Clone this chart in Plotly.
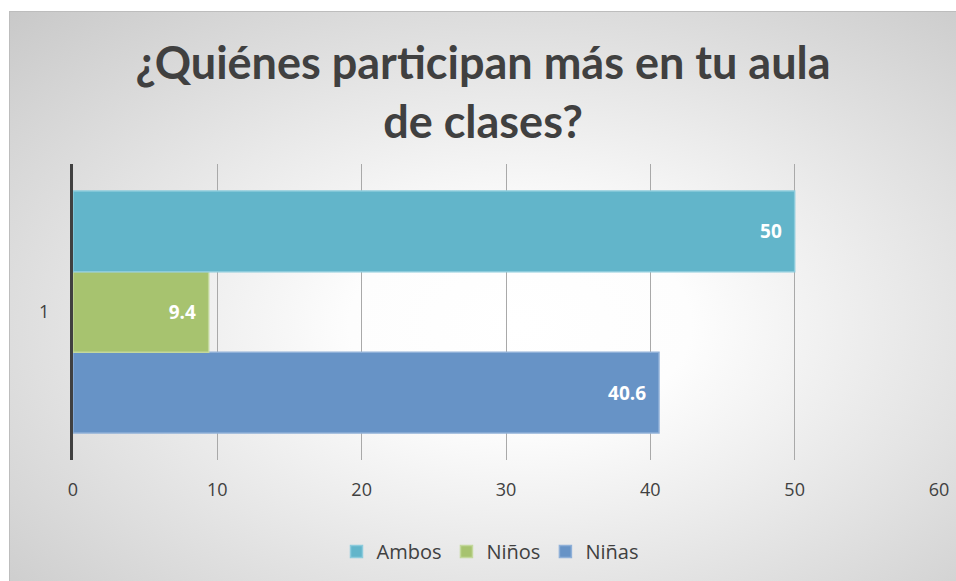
import base64
import plotly.graph_objects as go

# Data
categories = ["1"]
series_names = ["Niñas", "Niños", "Ambos"]
series_values = [[40.6], [9.4], [50]]
series_colors = ["#6793c6", "#a7c36f", "#62b5ca"]
series_lines = ["#8fb0d8", "#c3d89c", "#8ccbdc"]
x_ticks = [0, 10, 20, 30, 40, 50, 60]

W, H = 956, 581
L, R, T, B = 73, 17, 164, 121
pw, ph = W - L - R, H - T - B

# radial gradient background (chart area)
bx0, by0 = 9, 11
bw, bh = W - bx0, H - by0
svg = f'''<svg xmlns="http://www.w3.org/2000/svg" width="{bw}" height="{bh}" viewBox="0 0 {bw} {bh}" preserveAspectRatio="none">
<defs><radialGradient id="g" cx="0.54" cy="0.55" r="0.82" gradientUnits="objectBoundingBox">
<stop offset="0" stop-color="#ffffff"/><stop offset="0.22" stop-color="#fdfdfd"/>
<stop offset="1" stop-color="#c4c4c4"/></radialGradient></defs>
<rect x="0" y="0" width="{bw}" height="{bh}" fill="url(#g)"/>
<line x1="0" y1="0.5" x2="{bw}" y2="0.5" stroke="#bdbdbd" stroke-width="1"/>
<line x1="0.5" y1="0" x2="0.5" y2="{bh}" stroke="#bdbdbd" stroke-width="1"/>
</svg>'''
src = "data:image/svg+xml;base64," + base64.b64encode(svg.encode()).decode()

fig = go.Figure()
for name, vals, col, lc in zip(series_names, series_values, series_colors, series_lines):
    fig.add_trace(go.Bar(
        y=categories, x=vals, name=name, orientation="h",
        marker=dict(color=col, line=dict(color=lc, width=1.5)),
        texttemplate="<b>%{x}</b>\u00a0\u00a0", textposition="inside", insidetextanchor="end",
        textfont=dict(color="white", size=19, family="Open Sans"),
        cliponaxis=False,
    ))

fig.update_layout(
    width=W, height=H,
    margin=dict(l=L, r=R, t=T, b=B, pad=0, autoexpand=False),
    paper_bgcolor="white", plot_bgcolor="rgba(0,0,0,0)",
    barmode="group", bargap=0.182, bargroupgap=0,
    title=dict(text="<b>¿Quiénes participan más en tu aula<br>de clases?</b>",
               x=483 / W, xref="container", xanchor="center",
               y=1 - 79 / H, yref="container", yanchor="top",
               font=dict(family="Lato", size=45, color="#404040")),
    legend=dict(orientation="h", x=490 / W, xref="container", xanchor="center",
                y=1 - 532 / H, yref="container", yanchor="top",
                traceorder="reversed", font=dict(family="Open Sans", size=20, color="#404040"),
                bgcolor="rgba(0,0,0,0)", itemwidth=30),
    showlegend=True,
    xaxis=dict(range=[0, 60], tickvals=x_ticks, showgrid=True, gridcolor="#a9a9a9", gridwidth=1,
               zeroline=False, showline=False, ticks="", automargin=False,
               tickfont=dict(family="Open Sans", size=18, color="#404040"), ticklabelstandoff=17),
    yaxis=dict(type="category", showline=True, linecolor="#404040", linewidth=3,
               ticks="", automargin=False, tickfont=dict(family="Open Sans", size=18, color="#404040"),
               ticklabelstandoff=17, showgrid=False),
    images=[dict(source=src, xref="paper", yref="paper",
                 x=(bx0 - L) / pw, y=(H - B - by0) / ph,
                 sizex=bw / pw, sizey=bh / ph, sizing="stretch",
                 xanchor="left", yanchor="top", layer="below")],
)

fig.write_html("out.html", config={"displayModeBar": False},
               post_script="document.body.style.margin='0';document.body.style.overflow='hidden';")
